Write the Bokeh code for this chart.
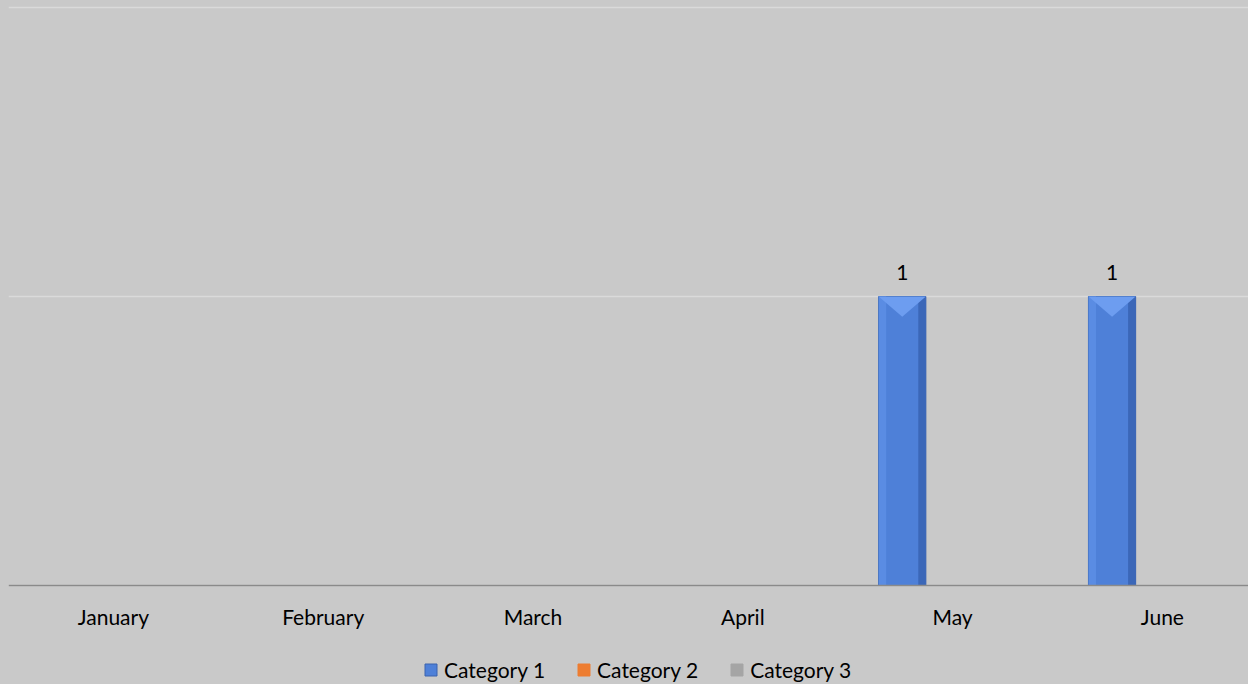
import numpy as np
from bokeh.plotting import figure
from bokeh.models import Range1d, FixedTicker, Legend, LegendItem
from bokeh.embed import file_html
from bokeh.resources import INLINE

months = ["January", "February", "March", "April", "May", "June"]
series_names = ["Category 1", "Category 2", "Category 3"]
cat1 = [None, None, None, None, 1, 1]
cat2 = [None, None, None, None, None, None]
cat3 = [None, None, None, None, None, None]
colors = ["#4e80d8", "#ed7d31", "#a5a5a5"]

FONT = "Lato"
FS = "21px"
BG = "#c9c9c9"

n = len(months)
centers = [i + 0.5 for i in range(n)]
offsets = [-0.24, 0.0, 0.24]
bw = 0.225

W, H = 1248, 684
TOP = 4
Y2_PX = 7.0
PX_PER_UNIT = 289.0
frame_h = H - TOP
y_end = 2 + (Y2_PX - TOP) / PX_PER_UNIT
y_start = y_end - frame_h / PX_PER_UNIT

p = figure(width=W, height=H, output_backend="svg", toolbar_location=None,
           x_range=Range1d(0, 1240 / 209.8), y_range=Range1d(y_start, y_end),
           min_border_left=8, min_border_right=0, min_border_top=TOP, min_border_bottom=0,
           background_fill_color=BG, border_fill_color=BG, outline_line_color=None)
p.styles = {"background-color": BG}

p.yaxis.visible = False
p.ygrid.ticker = FixedTicker(ticks=[0, 1, 2])
p.ygrid.grid_line_color = "#dadada"
p.ygrid.grid_line_width = 1.5
p.xgrid.visible = False

p.xaxis.fixed_location = 0
p.xaxis.ticker = FixedTicker(ticks=centers)
p.xaxis.major_label_overrides = {c: m for c, m in zip(centers, months)}
p.xaxis.major_tick_line_color = None
p.xaxis.minor_tick_line_color = None
p.xaxis.axis_line_color = "#8a8a8a"
p.xaxis.axis_line_width = 1.5
p.xaxis.major_label_text_font = FONT
p.xaxis.major_label_text_font_size = FS
p.xaxis.major_label_text_color = "#000000"
p.xaxis.major_label_standoff = 12

items = []
for k, (name, vals, col) in enumerate(zip(series_names, [cat1, cat2, cat3], colors)):
    xs = [c + offsets[k] for c in centers]
    tops = [np.nan if v is None else v for v in vals]
    r = p.vbar(x=xs, top=tops, bottom=0, width=bw, fill_color=col,
               line_color="#3a62ad" if k == 0 else col, line_width=1)
    items.append(LegendItem(label=name, renderers=[r]))
    valid = [(x, t) for x, t in zip(xs, tops) if not np.isnan(t)]
    if valid:
        vx = [x for x, t in valid]
        vt = [t for x, t in valid]
        edge = bw * 0.16
        p.vbar(x=[x + bw / 2 - edge / 2 for x in vx], top=vt, bottom=0, width=edge,
               fill_color="#3b67b8", line_color=None)
        p.vbar(x=[x - bw / 2 + edge / 2 for x in vx], top=vt, bottom=0, width=edge,
               fill_color="#5a8ce3", line_color=None)
        tri_x = [[x - bw / 2, x + bw / 2, x] for x in vx]
        tri_y = [[t, t, t - 0.07] for t in vt]
        p.patches(tri_x, tri_y, fill_color="#6d9df0", line_color=None)
        p.text(x=vx, y=vt, text=[str(int(t)) for t in vt], y_offset=-24,
               text_align="center", text_baseline="middle",
               text_font={"value": FONT}, text_font_size=FS, text_color="#000000")

legend = Legend(items=items, orientation="horizontal", location=(415, 2),
                background_fill_alpha=0, border_line_color=None,
                label_text_font=FONT, label_text_font_size=FS,
                label_text_color="#000000",
                glyph_width=15, glyph_height=15, label_standoff=6, spacing=31,
                padding=0, margin=0)
p.add_layout(legend, "center")

open("out.html", "w").write(file_html(p, INLINE))
